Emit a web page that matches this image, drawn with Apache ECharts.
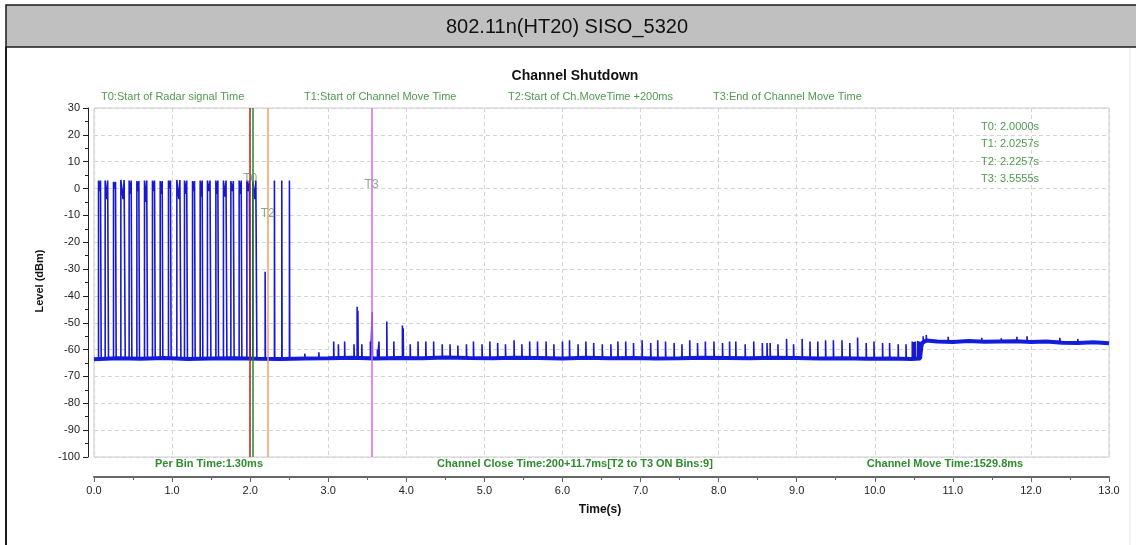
<!DOCTYPE html>
<html>
<head>
<meta charset="utf-8">
<script src="https://cdn.jsdelivr.net/npm/echarts@6/dist/echarts.min.js"></script>
<style>html,body{margin:0;padding:0;background:#fff}#c{width:1136px;height:545px}</style>
</head>
<body>
<div id="c"></div>
<script>
// ---- text ----
const pageTitle = '802.11n(HT20) SISO_5320';
const chartTitle = 'Channel Shutdown';
const topLabels = ['T0:Start of Radar signal Time','T1:Start of Channel Move Time','T2:Start of Ch.MoveTime +200ms','T3:End of Channel Move Time'];
const statTexts = ['Per Bin Time:1.30ms','Channel Close Time:200+11.7ms[T2 to T3 ON Bins:9]','Channel Move Time:1529.8ms'];
const xName = 'Time(s)';
const yName = 'Level (dBm)';

// ---- markers ----
const markerName = ['T0','T1','T2','T3'];
const markerTime = [2.0, 2.0257, 2.2257, 3.5555];
const markerLabelLevel = [3.8, null, -9.5, 1.3];

// ---- noise floor (dBm) ----
const floorTime = [0, 0.3, 0.6, 0.9, 1.2, 1.5, 1.8, 2.1, 2.4, 2.7, 3.0, 3.3, 3.6, 3.9, 4.2, 4.5, 4.8, 5.1, 5.4, 5.7, 6.0, 6.3, 6.6, 6.9, 7.2, 7.5, 7.8, 8.1, 8.4, 8.7, 9.0, 9.3, 9.6, 9.9, 10.2, 10.47, 10.58, 10.6, 10.66, 10.8, 11.0, 11.2, 11.4, 11.6, 11.8, 12.0, 12.2, 12.4, 12.6, 12.8, 13.0];
const floorLevel = [-63.6, -63.2, -63.4, -63.1, -63.5, -63.3, -63.2, -63.4, -63.5, -63.3, -63.2, -63.0, -63.3, -63.1, -63.2, -62.9, -63.1, -63.2, -63.0, -63.1, -63.3, -63.0, -63.2, -63.1, -63.3, -63.2, -63.0, -63.1, -63.2, -63.0, -63.1, -63.3, -63.2, -63.4, -63.3, -63.5, -63.3, -57.6, -56.6, -57.0, -57.2, -56.8, -57.1, -57.0, -56.9, -57.2, -57.0, -57.4, -57.5, -57.3, -57.6];

// ---- radar bursts (wide pulses) ----
const pulseStart = [0.058, 0.143, 0.250, 0.344, 0.450, 0.549, 0.647, 0.749, 0.848, 0.954, 1.061, 1.159, 1.262, 1.360, 1.453, 1.561, 1.658, 1.753, 1.859, 1.958, 2.034];
const pulseEnd   = [0.092, 0.186, 0.284, 0.400, 0.485, 0.583, 0.685, 0.784, 0.882, 0.988, 1.113, 1.197, 1.296, 1.394, 1.497, 1.595, 1.702, 1.795, 1.894, 2.000, 2.086];
const pulseTop   = [3.0, 3.0, 2.5, 3.2, 3.0, 2.8, 3.0, 3.0, 2.8, 3.0, 3.2, 3.0, 2.8, 3.0, 3.0, 3.0, 3.0, 2.8, 3.0, 3.0, 3.0];
const pulseDip   = [-1, -4, 0, -4, -2, -1, -5, -1, -2, 0, -4, -2, -1, -3, -1, -2, -3, -1, -2, -1, -4];

// ---- narrow spikes ----
const spikeTime = [2.192, 2.311, 2.405, 2.503, 2.70, 2.88, 3.07, 3.13, 3.21, 3.33, 3.37, 3.38, 3.43, 3.54, 3.563, 3.63, 3.65, 3.75, 3.84, 3.95, 3.96,
  4.05, 4.15, 4.25, 4.35, 4.46, 4.56, 4.66, 4.77, 4.86, 4.97, 5.07, 5.17, 5.27, 5.38, 5.48, 5.58, 5.68, 5.79, 5.89, 6.00, 6.09, 6.20, 6.30, 6.40, 6.51, 6.62, 6.71,
  6.81, 6.91, 7.02, 7.13, 7.22, 7.32, 7.43, 7.53, 7.63, 7.73, 7.83, 7.94, 8.05, 8.14, 8.22, 8.34, 8.45, 8.56, 8.62, 8.66, 8.76, 8.87, 8.96, 9.07, 9.17, 9.27, 9.37, 9.47, 9.58, 9.68, 9.78, 9.89, 9.99, 10.10, 10.19, 10.30, 10.40,
  10.48, 10.50, 10.52, 10.55, 10.57, 10.62, 10.66, 10.94, 11.37, 11.62, 11.82, 11.95, 12.37, 12.60];
const spikeTop = [-31, 3, 3, 3, -61.5, -61, -57, -58, -57, -58, -44, -45.5, -58, -57, -46, -60, -57, -49.5, -57, -51, -52,
  -58, -57, -57, -57, -58, -58, -58.5, -58, -57, -58, -57, -57.5, -58, -56.5, -58, -57, -57, -57, -58, -57, -56.5, -58, -57, -57.5, -58, -58, -57,
  -57, -57.5, -56.5, -57.5, -56.5, -57, -57.5, -58, -56.5, -57.5, -57, -57, -57.5, -57, -57, -58, -57, -57.5, -57.5, -57.5, -58, -56, -58, -56, -57, -57, -56.5, -56.5, -56.5, -57.5, -55.5, -57.5, -57, -57.5, -57.5, -58, -58,
  -57, -57.2, -57, -56.8, -57, -55.0, -54.6, -55.2, -55.6, -55.8, -55.2, -55.0, -55.6, -56.0];

// ---- build the series data from the arrays above ----
function baseAt(t){ let v = floorLevel[0]; for (let i=0;i<floorTime.length;i++){ if (floorTime[i] <= t) v = floorLevel[i]; } return v; }
const floorData = floorTime.map((t,i)=>[t, floorLevel[i]]);
const events = [];
pulseStart.forEach((s,i)=>{
  const e = pulseEnd[i], b = baseAt(s), w = e - s, top = pulseTop[i];
  events.push({t:s, pts:[[s,b],[s,top],[s+w*0.25,top],[(s+e)/2,pulseDip[i]],[e-w*0.25,top],[e,top],[e,b]]});
});
spikeTime.forEach((t,i)=>{
  const b = baseAt(t);
  events.push({t:t, pts:[[t,b],[t,spikeTop[i]],[t+0.004,b]]});
});
events.sort((a,b)=>a.t-b.t);
const pulseData = [];
events.forEach(ev=>ev.pts.forEach(p=>pulseData.push(p)));

const markerColors = ['#b4241c','#1f8a2a','#f0a066','#d268e6'];
const narrow = "'Liberation Sans Narrow','Arial Narrow','Liberation Sans',sans-serif";
const sans = "'Liberation Sans',Arial,sans-serif";
const blue = '#1020e0';

const chart = echarts.init(document.getElementById('c'), null, {renderer:'canvas'});
const graphics = [
  {type:'rect', shape:{x:6,y:5,width:1140,height:42}, style:{fill:'#c0c0c0', stroke:'#1a1a1a', lineWidth:1.5}, z:10},
  {type:'line', shape:{x1:6,y1:47,x2:6,y2:545}, style:{stroke:'#1a1a1a', lineWidth:2}, z:10},
  {type:'line', shape:{x1:1130,y1:48,x2:1130,y2:545}, style:{stroke:'#e6e6e6', lineWidth:1}, z:10},
  {type:'text', x:567, y:27, z:11, style:{text:pageTitle, font:'20px '+sans, fill:'#111', align:'center', verticalAlign:'middle', textAlign:'center', textVerticalAlign:'middle'}},
  {type:'text', x:575, y:76, z:11, style:{text:chartTitle, font:'bold 14px '+sans, fill:'#111', align:'center', verticalAlign:'middle', textAlign:'center', textVerticalAlign:'middle'}},
  {type:'text', x:600, y:510, z:11, style:{text:xName, font:'bold 12px '+sans, fill:'#111', align:'center', verticalAlign:'middle', textAlign:'center', textVerticalAlign:'middle'}},
  {type:'text', x:40, y:281, rotation:Math.PI/2, z:11, style:{text:yName, font:'bold 11px '+sans, fill:'#111', align:'center', verticalAlign:'middle', textAlign:'center', textVerticalAlign:'middle'}}
];
const topX = [101, 304, 508, 713];
topLabels.forEach((s,i)=>graphics.push({type:'text', x:topX[i], y:97, z:11, style:{text:s, font:'11px '+sans, fill:'#4f9a4f', align:'left', verticalAlign:'middle', textAlign:'left', textVerticalAlign:'middle'}}));
const annY = [126.5, 144, 161.5, 179];
markerName.forEach((n,i)=>graphics.push({type:'text', x:981, y:annY[i], z:11, style:{text:n+': '+markerTime[i].toFixed(4)+'s', font:'11px '+narrow, fill:'#4f9a4f', align:'left', verticalAlign:'middle', textAlign:'left', textVerticalAlign:'middle'}}));
const statX = [209, 575, 945];
statTexts.forEach((s,i)=>graphics.push({type:'text', x:statX[i], y:464, z:11, style:{text:s, font:'bold 11px '+sans, fill:'#2e8b2e', align:'center', verticalAlign:'middle', textAlign:'center', textVerticalAlign:'middle'}}));

const option = {
  animation:false,
  backgroundColor:'#ffffff',
  grid:{left:94, right:27, top:108, bottom:88, show:true, borderColor:'#cccccc', borderWidth:1, backgroundColor:'#ffffff'},
  xAxis:{type:'value', min:0, max:13, interval:1, offset:20,
    axisLine:{show:true, onZero:false, lineStyle:{color:'#666', width:2}},
    axisTick:{show:true, length:5, lineStyle:{color:'#666'}},
    minorTick:{show:true, splitNumber:2, length:3, lineStyle:{color:'#666'}},
    axisLabel:{formatter:v=>v.toFixed(1), fontFamily:narrow, fontSize:11, color:'#222', margin:8},
    splitLine:{show:true, lineStyle:{type:[4,3], color:'#d4d4d4'}}},
  yAxis:{type:'value', min:-100, max:30, interval:10, offset:6,
    axisLine:{show:true, onZero:false, lineStyle:{color:'#222', width:1}},
    axisTick:{show:true, length:5, lineStyle:{color:'#222'}},
    minorTick:{show:true, splitNumber:2, length:3, lineStyle:{color:'#222'}},
    axisLabel:{fontFamily:narrow, fontSize:11, color:'#222', margin:8},
    splitLine:{show:true, lineStyle:{type:[4,3], color:'#d4d4d4'}}},
  series:[
    {name:'floor', type:'line', data:floorData, showSymbol:false, symbol:'none', lineStyle:{color:blue, width:4}, z:2, silent:true},
    {name:'level', type:'line', data:pulseData, showSymbol:false, symbol:'none', lineStyle:{color:'#1818d0', width:1.6}, z:3, silent:true,
      markLine:{symbol:['none','none'], silent:true, animation:false, label:{show:false},
        data: markerTime.map((t,i)=>({xAxis:t, lineStyle:{color:markerColors[i], width:1.5, type:'solid'}}))}},
    {name:'markerLabels', type:'scatter', symbolSize:0, z:6, silent:true,
      data: markerTime.map((t,i)=>markerLabelLevel[i]===null?null:{value:[t, markerLabelLevel[i]], name:markerName[i]}).filter(d=>d),
      label:{show:true, position:'inside', formatter:p=>p.name, fontFamily:narrow, fontSize:12, color:'#6f946f'}}
  ],
  graphic: graphics
};
chart.setOption(option);
</script>
</body>
</html>
